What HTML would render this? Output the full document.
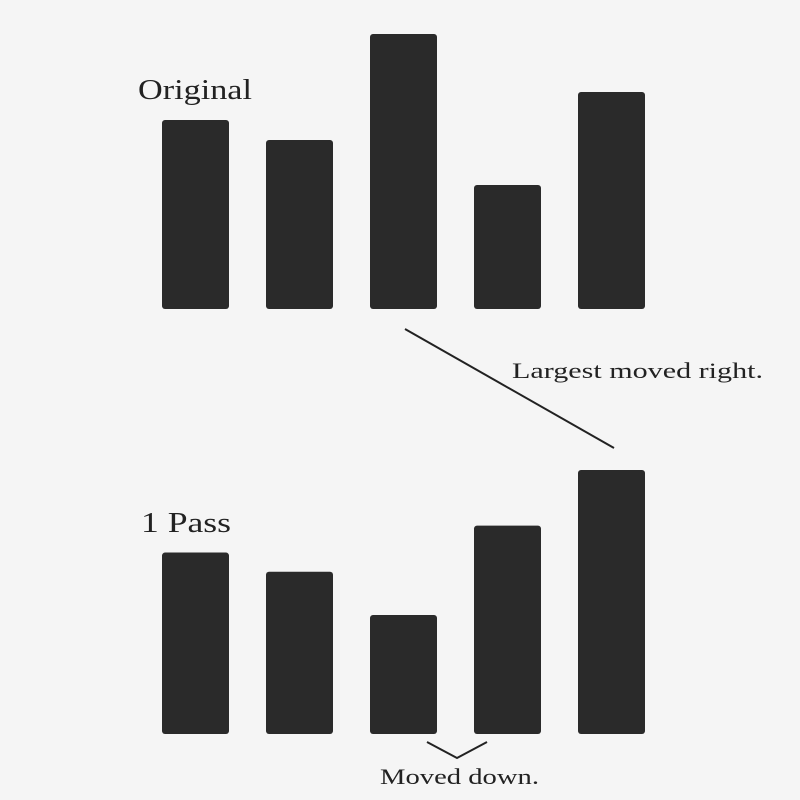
<!DOCTYPE html>
<html>
<head>
<meta charset="utf-8">
<style>
  html,body{margin:0;padding:0;background:#f5f5f5;}
  svg{display:block;}
  text{font-family:"Liberation Serif",serif;fill:#222;}
</style>
</head>
<body>
<svg id="chart" width="800" height="800" viewBox="0 0 800 800">
  <rect width="800" height="800" fill="#f5f5f5"/>
  <text x="138" y="99" font-size="29" textLength="114" lengthAdjust="spacingAndGlyphs">Original</text>
  <text x="141" y="532" font-size="29" textLength="90" lengthAdjust="spacingAndGlyphs">1 Pass</text>
  <line x1="405" y1="329" x2="614" y2="448" stroke="#222" stroke-width="2"/>
  <text x="512" y="378" font-size="22" textLength="251" lengthAdjust="spacingAndGlyphs">Largest moved right.</text>
  <polyline points="427,742 457,758 487,742" fill="none" stroke="#222" stroke-width="2"/>
  <text x="380" y="784" font-size="22" textLength="159" lengthAdjust="spacingAndGlyphs">Moved down.</text>
  <g id="top-bars"></g>
  <g id="bottom-bars"></g>
</svg>
<script>
const originalValues = [189, 169, 275, 124, 217];
const passValues = [189, 169, 124, 217, 275];
const barLabels = ["a", "b", "c", "d", "e"];

const NS = "http://www.w3.org/2000/svg";
function xPos(i){ return 162 + i * 104; }
function drawBars(groupId, values, baseline, scale, prefix){
  const g = document.getElementById(groupId);
  values.forEach(function(v, i){
    const h = v * scale;
    const r = document.createElementNS(NS, "rect");
    r.setAttribute("x", xPos(i));
    r.setAttribute("y", baseline - h);
    r.setAttribute("width", 67);
    r.setAttribute("height", h);
    r.setAttribute("rx", 3);
    r.setAttribute("fill", "#2a2a2a");
    
    
    g.appendChild(r);
  });
}
drawBars("top-bars", originalValues, 309, 1, "original");
drawBars("bottom-bars", passValues, 734, 0.96, "one-pass");
</script>
</body>
</html>
